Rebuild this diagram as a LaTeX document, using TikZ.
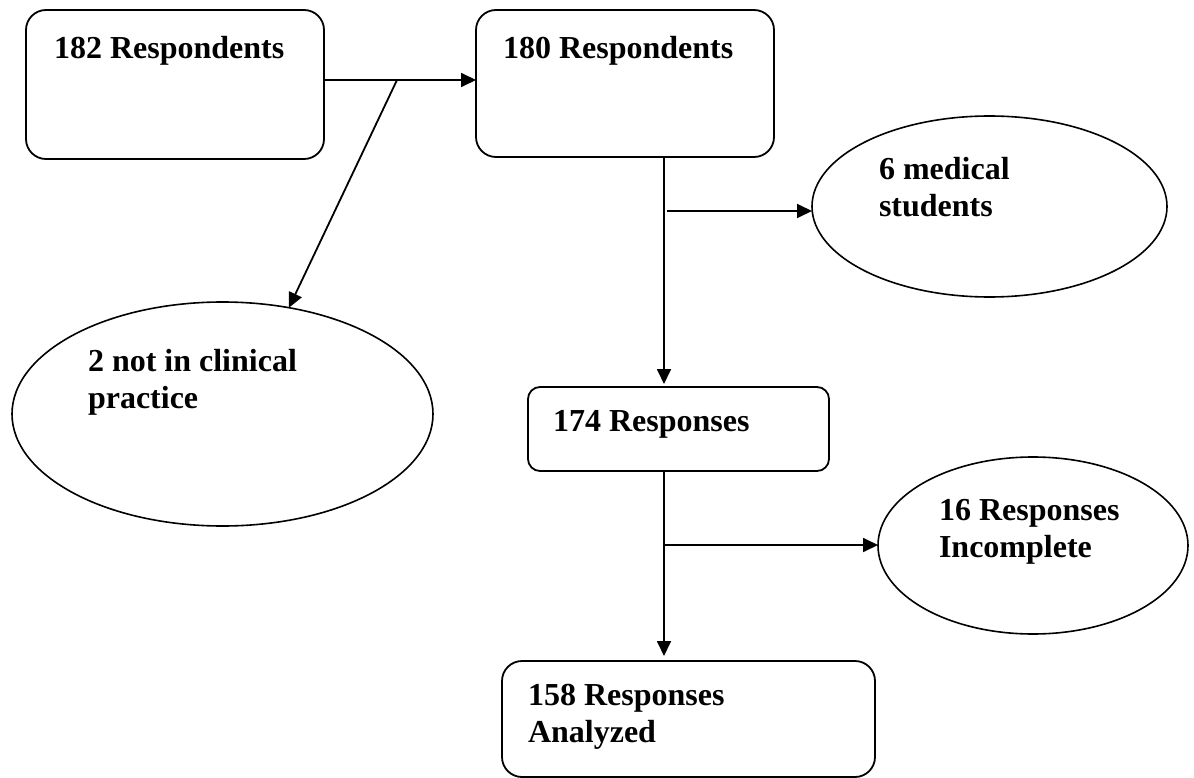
\documentclass[tikz,border=0pt]{standalone}
\usepackage{fontspec}
\setmainfont{Liberation Serif}
\usetikzlibrary{shapes.geometric,arrows.meta}
\begin{document}
\begin{tikzpicture}[x=1pt,y=-1pt,
  every node/.style={inner sep=0pt,outer sep=0pt},
  boxstyle/.style={draw,line width=1.8pt,rectangle,rounded corners=#1},
  ellstyle/.style={draw,line width=1.6pt,ellipse},
  lbl/.style={anchor=base west,align=left,font=\bfseries\fontsize{32}{37}\selectfont},
  arr/.style={line width=1.8pt,-{Triangle[length=15pt,width=14pt]}},
  ln/.style={line width=1.8pt}]
\useasboundingbox (0,0) rectangle (1194,778);
% boxes
\node[boxstyle=20pt,minimum width=298pt,minimum height=149pt] (b182) at (175,84.5) {};
\node[boxstyle=20pt,minimum width=298pt,minimum height=147pt] (b180) at (625,83.5) {};
\node[boxstyle=12pt,minimum width=301pt,minimum height=84pt] (b174) at (678.5,429) {};
\node[boxstyle=20pt,minimum width=373pt,minimum height=116pt] (b158) at (688.5,719) {};
% ellipses
\node[ellstyle,minimum width=421pt,minimum height=224pt] (enot) at (222.5,414) {};
\node[ellstyle,minimum width=355pt,minimum height=181pt] (emed) at (989.5,206.5) {};
\node[ellstyle,minimum width=310pt,minimum height=177pt] (einc) at (1033,545.5) {};
% labels (multi-line: base = last line)
\node[lbl] (t182) at (54,59) {182 Respondents};
\node[lbl] (t180) at (503,59) {180 Respondents};
\node[lbl] (tmed) at (879,217) {6 medical\\students};
\node[lbl] (tnot) at (88,408) {2 not in clinical\\practice};
\node[lbl] (t174) at (553,431) {174 Responses};
\node[lbl] (tinc) at (939,557) {16 Responses\\Incomplete};
\node[lbl] (t158) at (528,742) {158 Responses\\Analyzed};
% helper coordinates
\coordinate (j1) at (397,80);
\coordinate (xv) at (664,0);
\coordinate (j2) at (667,211);
\coordinate (j3) at (664,545);
% connectors
\draw[arr] (b182.east |- j1) -- (b180.west |- j1);
\draw[arr] (j1) -- (enot.58);
\draw[arr,shorten >=3pt] (b180.south -| xv) -- (b174.north -| xv);
\draw[arr] (j2) -- (emed.west |- j2);
\draw[arr,shorten >=5pt] (b174.south -| xv) -- (b158.north -| xv);
\draw[arr] (j3) -- (einc.west |- j3);
\end{tikzpicture}
\end{document}
